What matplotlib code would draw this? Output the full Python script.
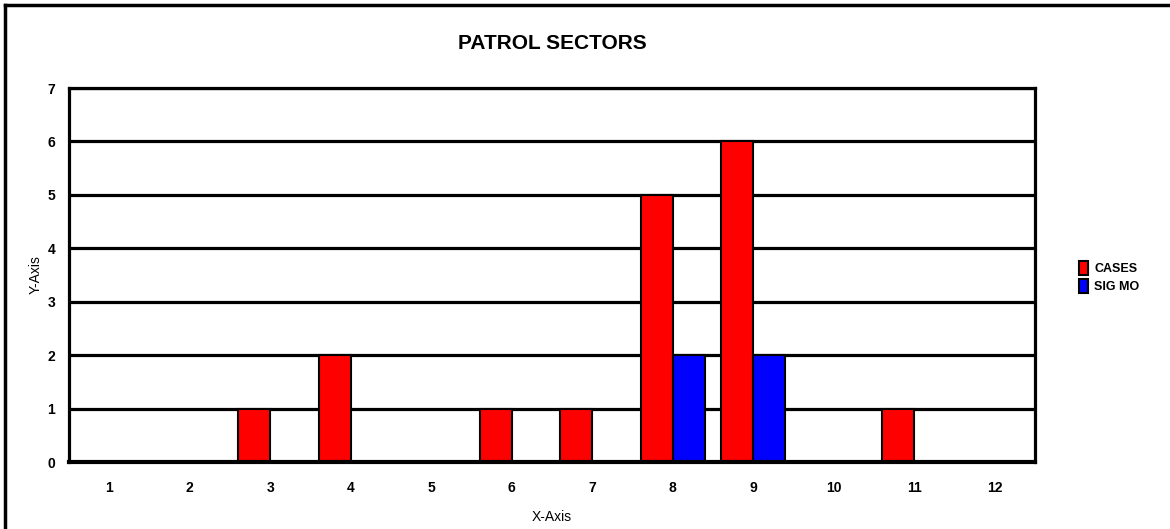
import numpy as np
import matplotlib.pyplot as plt
from matplotlib.lines import Line2D

plt.rcParams['font.family'] = ['Liberation Sans Narrow', 'Liberation Sans', 'DejaVu Sans']

sectors = ['1', '2', '3', '4', '5', '6', '7', '8', '9', '10', '11', '12']
cases = [0, 0, 1, 2, 0, 1, 1, 5, 6, 0, 1, 0]
sig_mo = [0, 0, 0, 0, 0, 0, 0, 2, 2, 0, 0, 0]

fig = plt.figure(figsize=(11.7, 5.29), dpi=100)
ax = fig.add_axes([69 / 1170, 1 - 462 / 529, (1035 - 69) / 1170, (462 - 88) / 529])

x = np.arange(len(sectors))
w = 0.4
ax.bar(x - w / 2, cases, w, color='#ff0000', edgecolor='black', linewidth=1.5,
       label='CASES', zorder=3)
ax.bar(x + w / 2, sig_mo, w, color='#0000ff', edgecolor='black', linewidth=1.5,
       label='SIG MO', zorder=3)

ax.set_xlim(-0.5, len(sectors) - 0.5)
ax.set_ylim(0, 7)
ax.set_yticks(range(8))
ax.set_xticks(x)
ax.set_xticklabels(sectors)
ax.tick_params(length=0, labelsize=10)
ax.tick_params(axis='x', pad=14)
ax.tick_params(axis='y', pad=10)
for lab in ax.get_xticklabels() + ax.get_yticklabels():
    lab.set_fontweight('bold')

ax.grid(axis='y', color='black', linewidth=2.3, zorder=1)
for s in ax.spines.values():
    s.set_linewidth(2.3)
ax.spines['bottom'].set_linewidth(3)
ax.spines['bottom'].set_zorder(4)

ax.set_title('PATROL SECTORS', fontsize=15, fontweight='bold', pad=28)
ax.set_xlabel('X-Axis', fontsize=10)
ax.set_ylabel('Y-Axis', fontsize=10)
ax.xaxis.set_label_coords(0.5, (462 - 510) / 374)
ax.yaxis.set_label_coords((43 - 69) / 966, 0.5)

leg = fig.legend(loc='upper left', bbox_to_anchor=(1068 / 1170, 1 - 250 / 529),
                 frameon=False, prop={'weight': 'bold', 'size': 9},
                 handlelength=0.7, handleheight=1.3, handletextpad=0.5,
                 labelspacing=0.3)

# outer frame
fig.add_artist(Line2D([5 / 1170, 5 / 1170], [0, 1 - 5 / 529], color='black', lw=2.5))
fig.add_artist(Line2D([5 / 1170, 1], [1 - 5 / 529, 1 - 5 / 529], color='black', lw=2.5))

fig.savefig('out.png', dpi=100)
